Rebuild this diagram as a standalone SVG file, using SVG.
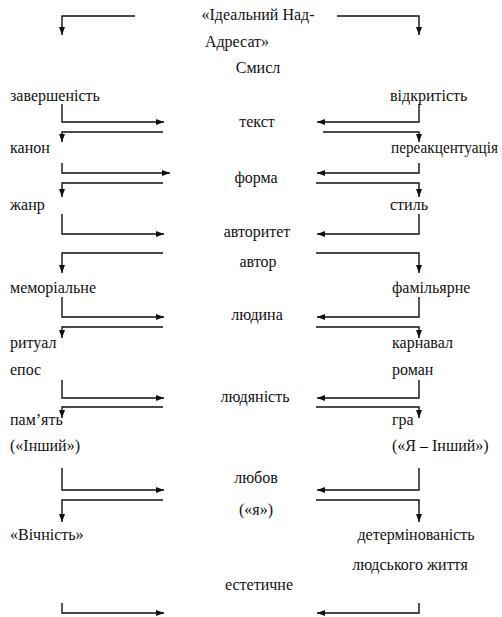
<svg xmlns="http://www.w3.org/2000/svg" width="502" height="617" viewBox="0 0 502 617" font-family="'Liberation Serif', 'Times New Roman', serif" font-size="16">
<style>
text{font-family:'Liberation Serif','Times New Roman',serif;font-size:16px;fill:#111;}
.c{text-anchor:middle;}
.con path{fill:none;stroke:#111;stroke-width:1.4;marker-end:url(#ah);}
</style>
<defs>
<marker id="ah" markerUnits="userSpaceOnUse" markerWidth="9" markerHeight="7" refX="8" refY="3" orient="auto">
<path d="M0,0 L8,3 L0,6 z" fill="#111"/>
</marker>
</defs>
<rect width="502" height="617" fill="#fff"/>
<g class="con" id="connectors">
<path d="M135,16 H62 V35"/>
<path d="M337,16 H419 V35"/>
<path d="M62,104 V122 H164"/>
<path d="M419,104 V122 H317"/>
<path d="M163,132 H62 V142"/>
<path d="M323,132 H419 V142"/>
<path d="M62,163 V173 H170"/>
<path d="M419,163 V173 H317"/>
<path d="M163,183 H62 V197"/>
<path d="M316,183 H419 V197"/>
<path d="M62,214 V234 H164"/>
<path d="M419,214 V234 H317"/>
<path d="M163,253 H62 V273"/>
<path d="M316,253 H419 V273"/>
<path d="M62,297 V317 H164"/>
<path d="M419,297 V317 H317"/>
<path d="M163,327 H62 V338"/>
<path d="M316,327 H419 V338"/>
<path d="M62,380 V398 H164"/>
<path d="M419,380 V398 H317"/>
<path d="M163,407 H62 V418"/>
<path d="M316,407 H419 V418"/>
<path d="M62,468 V490 H164"/>
<path d="M419,468 V490 H317"/>
<path d="M163,500 H62 V522"/>
<path d="M316,500 H419 V522"/>
<path d="M62,603 V613 H164"/>
<path d="M419,603 V613 H317"/>
</g>
<g id="n-adresat"><text class="c" x="258" y="20">«Ідеальний Над-</text><text class="c" x="237" y="47">Адресат»</text></g>
<g id="n-smysl"><text class="c" x="258" y="73">Смисл</text></g>
<g id="n-zavershenist"><text x="10" y="101">завершеність</text></g>
<g id="n-vidkrytist"><text x="390" y="101">відкритість</text></g>
<g id="n-tekst"><text class="c" x="257" y="127">текст</text></g>
<g id="n-kanon"><text x="10" y="153">канон</text></g>
<g id="n-pereakcent"><text x="391" y="153" textLength="107" lengthAdjust="spacingAndGlyphs">переакцентуація</text></g>
<g id="n-forma"><text class="c" x="256" y="183">форма</text></g>
<g id="n-zhanr"><text x="10" y="210">жанр</text></g>
<g id="n-styl"><text x="390" y="210">стиль</text></g>
<g id="n-avtorytet"><text class="c" x="257" y="237">авторитет</text></g>
<g id="n-avtor"><text class="c" x="258" y="267">автор</text></g>
<g id="n-memorialne"><text x="10" y="293">меморіальне</text></g>
<g id="n-familiarne"><text x="392" y="293">фамільярне</text></g>
<g id="n-lyudyna"><text class="c" x="257" y="320">людина</text></g>
<g id="n-ritual"><text x="10" y="348">ритуал</text></g>
<g id="n-karnaval"><text x="392" y="348">карнавал</text></g>
<g id="n-epos"><text x="10" y="375">епос</text></g>
<g id="n-roman"><text x="392" y="375">роман</text></g>
<g id="n-lyudyanist"><text class="c" x="255" y="402">людяність</text></g>
<g id="n-pamyat"><text x="10" y="425">пам’ять</text><text x="10" y="451">(«Інший»)</text></g>
<g id="n-gra"><text x="392" y="425">гра</text><text x="392" y="451">(«Я – Інший»)</text></g>
<g id="n-lyubov"><text class="c" x="256" y="483">любов</text><text class="c" x="256" y="515">(«я»)</text></g>
<g id="n-vichnist"><text x="10" y="540">«Вічність»</text></g>
<g id="n-determ"><text class="c" x="416" y="540">детермінованість</text><text class="c" x="410" y="570">людського життя</text></g>
<g id="n-estetychne"><text class="c" x="259" y="590">естетичне</text></g>
</svg>
